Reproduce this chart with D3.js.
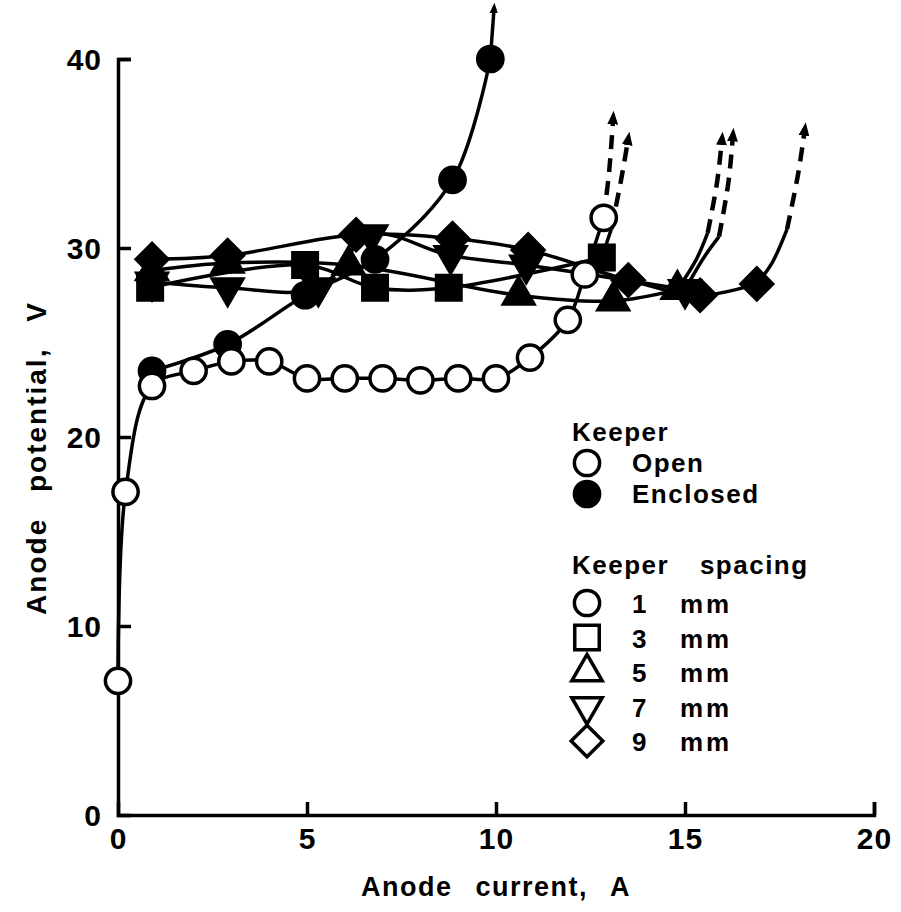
<!DOCTYPE html>
<html>
<head>
<meta charset="utf-8">
<script src="https://cdn.jsdelivr.net/npm/d3@7"></script>
<style>
  body { margin: 0; background: #fff; }
  svg { display: block; }
  text { font-family: "Liberation Sans", Arial, sans-serif; font-weight: bold; fill: #000; }
</style>
</head>
<body>
<svg id="chart" width="901" height="912"></svg>
<script>
// anode current (A), anode potential (V)
const openKeeper = [[0, 7.1], [0.2, 17.1], [0.9, 22.7], [2, 23.5], [3, 24.0], [4, 24.0], [5, 23.1],
  [6, 23.1], [7, 23.1], [8, 23.0], [9, 23.1], [10, 23.1], [10.9, 24.2], [11.9, 26.2], [12.35, 28.6], [12.85, 31.6]];
const enclosed1 = [[0.9, 23.5], [2.9, 24.9], [4.95, 27.5], [6.8, 29.4], [8.85, 33.6], [9.85, 40.0]];
const spacing3 = [[0.85, 27.9], [4.95, 29.1], [6.8, 27.9], [8.75, 27.9], [12.8, 29.5]];
const spacing5 = [[0.9, 28.8], [2.9, 29.2], [6.1, 29.1], [10.6, 27.5], [13.1, 27.2], [14.8, 27.8]];
const spacing7 = [[0.9, 28.2], [2.9, 27.9], [5.3, 27.9], [6.7, 30.7], [8.8, 29.6], [10.8, 29.1], [15.0, 27.8]];
const spacing9 = [[0.9, 29.4], [2.9, 29.6], [6.3, 30.7], [8.85, 30.5], [10.85, 29.9], [13.5, 28.3], [15.4, 27.5], [16.9, 28.1]];

// runaway continuations (solid part, dashed part), ending in an arrow
const tails = [
  { solid: [[9.85, 40.0], [9.95, 42.7]], dashed: [] },
  { solid: [], dashed: [[12.85, 31.6], [13.0, 34.2], [13.1, 36.9]] },
  { solid: [[12.8, 29.5], [13.05, 31.0]], dashed: [[13.05, 31.0], [13.3, 33.5], [13.5, 35.8]] },
  { solid: [[14.8, 27.8], [15.3, 29.4], [15.6, 30.8]], dashed: [[15.6, 30.8], [15.85, 33.5], [15.98, 35.8]] },
  { solid: [[15.0, 27.8], [15.5, 29.5], [15.9, 30.6]], dashed: [[15.9, 30.6], [16.15, 33.5], [16.27, 36.0]] },
  { solid: [[16.9, 28.1], [17.3, 29.2], [17.7, 31.0]], dashed: [[17.7, 31.0], [18.0, 34.0], [18.17, 36.3]] },
];

const xTicks = [0, 5, 10, 15, 20];
const yTicks = [0, 10, 20, 30, 40];
const legendKeeper = [["Open", false], ["Enclosed", true]];
const legendSpacing = [["circle", "1"], ["square", "3"], ["up", "5"], ["down", "7"], ["diamond", "9"]];

const svg = d3.select("#chart");
const x = d3.scaleLinear().domain([0, 20]).range([118, 874]);
const y = d3.scaleLinear().domain([0, 40]).range([815, 59]);

svg.append("defs").append("marker")
  .attr("id", "arrow")
  .attr("viewBox", "0 0 10 10")
  .attr("refX", 5).attr("refY", 5)
  .attr("markerWidth", 3).attr("markerHeight", 3)
  .attr("markerUnits", "strokeWidth")
  .attr("orient", "auto")
  .append("path").attr("d", "M0,1 L10,5 L0,9 Z").attr("fill", "#000");

// axes
const gx = svg.append("g").attr("transform", `translate(0,${y(0)})`)
  .call(d3.axisBottom(x).tickValues(xTicks).tickSize(-13).tickSizeOuter(-13).tickPadding(13).tickFormat(d3.format("d")));
const gy = svg.append("g").attr("transform", `translate(${x(0)},0)`)
  .call(d3.axisLeft(y).tickValues(yTicks).tickSize(-13).tickSizeOuter(-13).tickPadding(16).tickFormat(d3.format("d")));
[gx, gy].forEach(g => {
  g.selectAll("path, line").attr("stroke", "#000").attr("stroke-width", 3.5);
  g.selectAll("text").attr("font-size", 30).attr("font-family", "Liberation Sans, Arial, sans-serif")
    .attr("font-weight", "bold").attr("letter-spacing", 1);
});
gx.selectAll(".tick").filter(d => d === 0).select("line").remove();
gy.selectAll(".tick").filter(d => d === 0).select("line").remove();
gy.selectAll(".tick text").attr("dy", "0.36em");

svg.append("text").attr("x", x(10)).attr("y", 896).attr("text-anchor", "middle")
  .attr("font-size", 27).attr("letter-spacing", 1.5).attr("word-spacing", 14).text("Anode current, A");
svg.append("text").attr("transform", `translate(46,458) rotate(-90)`).attr("text-anchor", "middle")
  .attr("font-size", 28).attr("letter-spacing", 2).attr("word-spacing", 16).text("Anode potential, V");

// curves
const line = d3.line().x(d => x(d[0])).y(d => y(d[1])).curve(d3.curveCatmullRom.alpha(0.5));
const curves = svg.append("g").attr("fill", "none").attr("stroke", "#000").attr("stroke-width", 3.5);
[openKeeper, enclosed1, spacing3, spacing5, spacing7, spacing9].forEach(s => curves.append("path").attr("d", line(s)));
tails.forEach(t => {
  if (t.solid.length) {
    const p = curves.append("path").attr("d", line(t.solid));
    if (!t.dashed.length) p.attr("marker-end", "url(#arrow)");
  }
  if (t.dashed.length) {
    curves.append("path").attr("d", line(t.dashed)).attr("stroke-width", 4.5)
      .attr("stroke-dasharray", "14,9").attr("marker-end", "url(#arrow)");
  }
});

// markers
const sym = {
  circle: d3.symbol().type(d3.symbolCircle).size(500),
  square: d3.symbol().type(d3.symbolSquare).size(600),
  up: d3.symbol().type(d3.symbolTriangle).size(400),
  diamond: d3.symbol().type(d3.symbolSquare).size(500),
};
function mark(g, kind, px, py, filled) {
  const p = g.append("path").attr("stroke", "#000").attr("stroke-width", 3.5)
    .attr("fill", filled ? "#000" : "#fff");
  if (kind === "down") p.attr("d", sym.up()).attr("transform", `translate(${px},${py}) rotate(180)`);
  else if (kind === "diamond") p.attr("d", sym.diamond()).attr("transform", `translate(${px},${py}) rotate(45)`);
  else p.attr("d", sym[kind]()).attr("transform", `translate(${px},${py})`);
}
const marks = svg.append("g");
spacing3.forEach(d => mark(marks, "square", x(d[0]), y(d[1]), true));
spacing5.forEach(d => mark(marks, "up", x(d[0]), y(d[1]), true));
spacing7.forEach(d => mark(marks, "down", x(d[0]), y(d[1]), true));
spacing9.forEach(d => mark(marks, "diamond", x(d[0]), y(d[1]), true));
enclosed1.forEach(d => mark(marks, "circle", x(d[0]), y(d[1]), true));
openKeeper.forEach(d => mark(marks, "circle", x(d[0]), y(d[1]), false));

// legend
const lg = svg.append("g").attr("font-size", 26).attr("letter-spacing", 1.5);
const lx = 572, sx = 587, tx = 632;
lg.append("text").attr("x", lx).attr("y", 441).text("Keeper");
legendKeeper.forEach((r, i) => {
  const cy = 463 + i * 31;
  mark(lg, "circle", sx, cy, r[1]);
  lg.append("text").attr("x", tx).attr("y", cy + 9).text(r[0]);
});
lg.append("text").attr("x", lx).attr("y", 574).attr("word-spacing", 22).text("Keeper spacing");
legendSpacing.forEach((r, i) => {
  const cy = 603 + i * 34.5;
  mark(lg, r[0], sx, cy, false);
  lg.append("text").attr("x", tx).attr("y", cy + 10).text(r[1]);
  lg.append("text").attr("x", 680).attr("y", cy + 10).attr("letter-spacing", 3).text("mm");
});
</script>
</body>
</html>
